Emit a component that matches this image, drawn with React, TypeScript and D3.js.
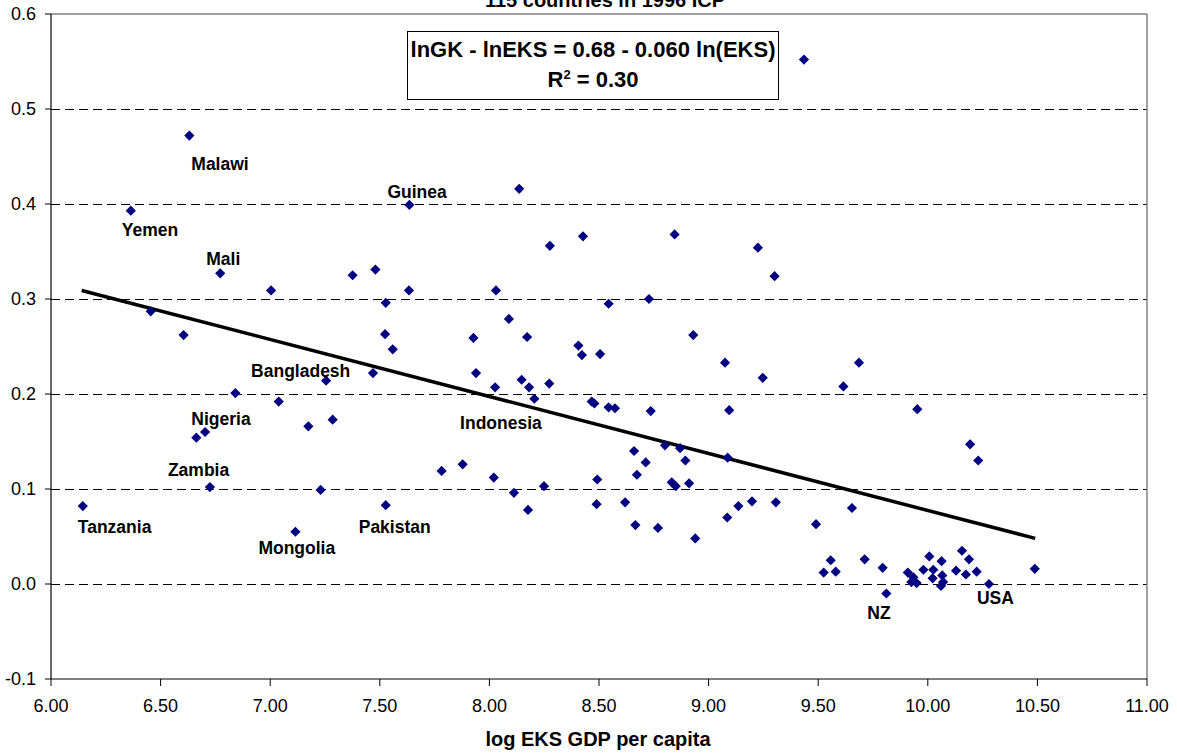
import * as d3 from "d3";

// log EKS GDP per capita (x) and lnGK - lnEKS (y), 115 countries
const logEks = [
  6.145, 6.364, 6.455, 6.605, 6.631, 6.663, 6.703, 6.725, 6.772, 6.841,
  7.004, 7.039, 7.115, 7.174, 7.23, 7.255, 7.285, 7.376, 7.469, 7.48,
  7.527, 7.524, 7.559, 7.527, 7.635, 7.633, 7.782, 7.878, 7.927, 7.939,
  8.02, 8.026, 8.03, 8.089, 8.112, 8.136, 8.147, 8.172, 8.181, 8.176,
  8.205, 8.249, 8.273, 8.276, 8.406, 8.422, 8.427, 8.467, 8.479, 8.489,
  8.492, 8.505, 8.544, 8.573, 8.544, 8.619, 8.66, 8.666, 8.673, 8.713,
  8.728, 8.736, 8.769, 8.801, 8.832, 8.85, 8.845, 8.87, 8.894, 8.911,
  8.93, 8.939, 9.075, 9.087, 9.085, 9.094, 9.136, 9.198, 9.225, 9.247,
  9.301, 9.307, 9.435, 9.49, 9.525, 9.557, 9.58, 9.615, 9.654, 9.686,
  9.712, 9.794, 9.811, 9.909, 9.934, 9.925, 9.949, 9.98, 10.007, 10.025,
  10.022, 10.063, 10.066, 10.07, 10.06, 10.129, 10.156, 10.188, 10.174, 10.223,
  9.952, 10.193, 10.23, 10.279, 10.488,
];
const gkGap = [
  0.082, 0.393, 0.287, 0.262, 0.472, 0.154, 0.16, 0.102, 0.327, 0.201,
  0.309, 0.192, 0.055, 0.166, 0.099, 0.214, 0.173, 0.325, 0.222, 0.331,
  0.296, 0.263, 0.247, 0.083, 0.399, 0.309, 0.119, 0.126, 0.259, 0.222,
  0.112, 0.207, 0.309, 0.279, 0.096, 0.416, 0.215, 0.26, 0.207, 0.078,
  0.195, 0.103, 0.211, 0.356, 0.251, 0.241, 0.366, 0.192, 0.19, 0.084,
  0.11, 0.242, 0.186, 0.185, 0.295, 0.086, 0.14, 0.062, 0.115, 0.128,
  0.3, 0.182, 0.059, 0.146, 0.107, 0.103, 0.368, 0.143, 0.13, 0.106,
  0.262, 0.048, 0.233, 0.133, 0.07, 0.183, 0.082, 0.087, 0.354, 0.217,
  0.324, 0.086, 0.552, 0.063, 0.012, 0.025, 0.013, 0.208, 0.08, 0.233,
  0.026, 0.017, -0.01, 0.012, 0.007, 0.002, 0.001, 0.015, 0.029, 0.015,
  0.006, 0.024, 0.009, 0.002, -0.002, 0.014, 0.035, 0.026, 0.01, 0.013,
  0.184, 0.147, 0.13, 0.0, 0.016,
];

// named countries and the point each one belongs to
const labelNames = ["Tanzania", "Yemen", "Malawi", "Nigeria", "Zambia", "Mali", "Bangladesh",
  "Mongolia", "Pakistan", "Guinea", "Indonesia", "NZ", "USA"];
const labelPoint = [0, 1, 4, 5, 7, 8, 15, 12, 23, 24, 31, 92, 113];

// fitted line end points
const trendX = [6.14, 10.49];
const trendY = [0.309, 0.048];

const xTicks = [6, 6.5, 7, 7.5, 8, 8.5, 9, 9.5, 10, 10.5, 11];
const yTicks = [-0.1, 0, 0.1, 0.2, 0.3, 0.4, 0.5, 0.6];

const width = 1177;
const height = 756;
const font = "'Liberation Sans', Arial, Helvetica, sans-serif";

// pixel offsets of each label from its point (left edge, baseline)
const labelOffset = {
  Tanzania: [-5, 27], Yemen: [-9, 25], Malawi: [2, 34], Nigeria: [-5, -13],
  Zambia: [-42, -11], Mali: [-14, -8], Bangladesh: [-75, -4], Mongolia: [-37, 22],
  Pakistan: [-27, 28], Guinea: [-22, -7], Indonesia: [-35, 42], NZ: [-19, 25], USA: [-12, 20],
};

export default function App() {
  const x = d3.scaleLinear().domain([6, 11]).range([51, 1147]);
  const y = d3.scaleLinear().domain([-0.1, 0.6]).range([679, 14]);
  const diamond = d3.symbol(d3.symbolSquare, 52)();
  const line = d3.line<number>().x((d, i) => x(d)).y((d, i) => y(trendY[i]));

  return (
    <svg width={width} height={height} style={{ position: "absolute", left: 0, top: 0, background: "#fff" }}
      fontFamily={font}>
      {/* grid */}
      {yTicks.filter(t => t >= 0 && t < 0.6).map(t => (
        <line key={t} x1={x(6)} x2={x(11)} y1={Math.round(y(t)) + 0.5} y2={Math.round(y(t)) + 0.5}
          stroke="#000" strokeWidth={1} strokeDasharray="9,5" />
      ))}
      {/* plot border */}
      <line x1={x(6)} x2={x(11)} y1={y(0.6)} y2={y(0.6)} stroke="#808080" strokeWidth={1.5} />
      <line x1={x(11)} x2={x(11)} y1={y(0.6)} y2={y(-0.1)} stroke="#808080" strokeWidth={1.5} />

      {/* axes */}
      <line x1={x(6)} x2={x(6)} y1={y(0.6)} y2={y(-0.1)} stroke="#000" strokeWidth={1.2} />
      <line x1={x(6)} x2={x(11)} y1={y(-0.1)} y2={y(-0.1)} stroke="#000" strokeWidth={1.2} />
      {yTicks.map(t => (
        <g key={t}>
          <line x1={x(6) - 6} x2={x(6)} y1={y(t)} y2={y(t)} stroke="#000" />
          <text x={36} y={y(t)} dy="0.36em" textAnchor="end" fontSize={18}>{t.toFixed(1)}</text>
        </g>
      ))}
      {xTicks.map(t => (
        <g key={t}>
          <line x1={x(t)} x2={x(t)} y1={y(-0.1)} y2={y(-0.1) + 7} stroke="#000" />
          <text x={x(t)} y={712} textAnchor="middle" fontSize={18}>{t.toFixed(2)}</text>
        </g>
      ))}

      {/* trend line */}
      <path d={line(trendX) || ""} fill="none" stroke="#000" strokeWidth={3.5} />

      {/* points */}
      {logEks.map((v, i) => (
        <path key={i} d={diamond || ""} fill="#000080"
          transform={`translate(${x(v)},${y(gkGap[i])}) rotate(45)`} />
      ))}

      {/* country labels */}
      {labelNames.map((name, k) => {
        const p = labelPoint[k];
        const [dx, dy] = labelOffset[name];
        return (
          <text key={name} x={x(logEks[p]) + dx} y={y(gkGap[p]) + dy} fontSize={17.5} fontWeight="bold">{name}</text>
        );
      })}

      {/* equation box */}
      <rect x={407.5} y={31.5} width={371} height={68} fill="#fff" stroke="#000" strokeWidth={1} />
      <text x={593} y={57} textAnchor="middle" fontSize={22} fontWeight="bold">lnGK - lnEKS = 0.68 - 0.060 ln(EKS)</text>
      <text x={593} y={87} textAnchor="middle" fontSize={22} fontWeight="bold">
        R<tspan dy={-8} fontSize={13}>2</tspan><tspan dy={8}> = 0.30</tspan>
      </text>

      {/* title (cut by top edge, as in the original) and axis title */}
      <text x={605} y={7} textAnchor="middle" fontSize={20} fontWeight="bold">115 countries in 1996 ICP</text>
      <text x={598} y={746} textAnchor="middle" fontSize={20} fontWeight="bold">log EKS GDP per capita</text>
    </svg>
  );
}
